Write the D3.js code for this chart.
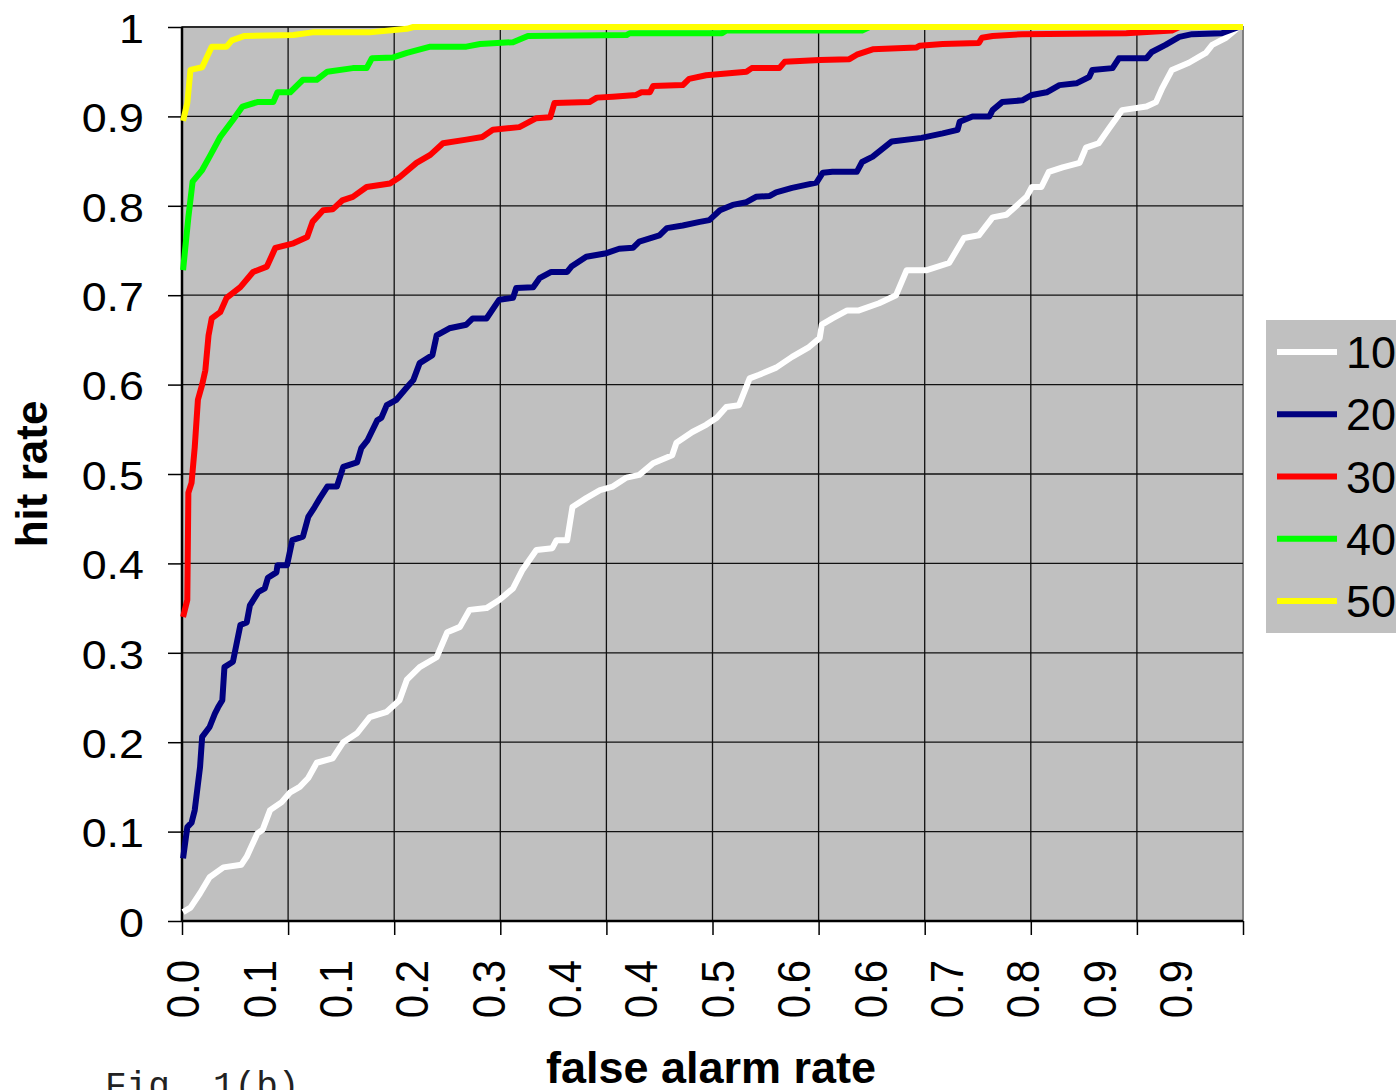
<!DOCTYPE html>
<html>
<head>
<meta charset="utf-8">
<script src="https://d3js.org/d3.v7.min.js"></script>
<style>
  body { margin: 0; background: #fff; }
  text { font-family: "Liberation Sans", Arial, sans-serif; }
</style>
</head>
<body>
<div id="roc-chart"></div>
<script>
//##########################################
//############   ROC CURVES   ##############
//##########################################

// series names (legend) and colours
var seriesNames = ["10", "20", "30", "40", "50"]
var seriesColors = ["#FFFFFF", "#000080", "#FF0000", "#00FF00", "#FFFF00"]

// [false alarm rate, hit rate]
var roc10 = [[0.001,0.01],[0.008,0.015],[0.017,0.031],[0.026,0.049],[0.039,0.06],[0.056,0.063],[0.061,0.072],
  [0.071,0.098],[0.076,0.102],[0.083,0.124],[0.094,0.133],[0.102,0.144],[0.111,0.15],[0.119,0.16],[0.127,0.177],
  [0.142,0.182],[0.152,0.2],[0.165,0.21],[0.177,0.228],[0.193,0.234],[0.205,0.247],[0.212,0.27],[0.224,0.284],
  [0.240,0.295],[0.250,0.323],[0.262,0.329],[0.271,0.348],[0.287,0.35],[0.299,0.359],[0.312,0.372],[0.321,0.393],
  [0.334,0.415],[0.349,0.417],[0.353,0.426],[0.363,0.426],[0.368,0.463],[0.381,0.473],[0.394,0.482],[0.406,0.486],
  [0.419,0.496],[0.431,0.499],[0.444,0.512],[0.462,0.521],[0.466,0.535],[0.481,0.547],[0.494,0.555],[0.504,0.563],
  [0.513,0.575],[0.525,0.577],[0.535,0.607],[0.544,0.611],[0.560,0.619],[0.575,0.631],[0.591,0.642],[0.601,0.652],
  [0.603,0.667],[0.613,0.674],[0.627,0.683],[0.638,0.683],[0.657,0.691],[0.673,0.70],[0.683,0.728],[0.702,0.728],
  [0.723,0.736],[0.737,0.764],[0.751,0.767],[0.764,0.787],[0.777,0.79],[0.796,0.81],[0.801,0.821],[0.810,0.821],
  [0.817,0.838],[0.830,0.843],[0.846,0.848],[0.852,0.865],[0.864,0.87],[0.874,0.887],[0.886,0.907],[0.909,0.911],
  [0.918,0.916],[0.924,0.932],[0.933,0.952],[0.949,0.96],[0.965,0.971],[0.971,0.98],[0.984,0.988],[0.990,0.994],
  [0.996,1.0]]

var roc20 = [[0.001,0.07],[0.005,0.105],[0.009,0.11],[0.012,0.124],[0.017,0.172],[0.019,0.206],[0.026,0.217],
  [0.031,0.232],[0.034,0.239],[0.038,0.247],[0.040,0.284],[0.048,0.29],[0.055,0.331],[0.061,0.334],[0.064,0.353],
  [0.072,0.368],[0.078,0.372],[0.081,0.384],[0.089,0.39],[0.090,0.398],[0.099,0.398],[0.104,0.426],[0.114,0.43],
  [0.119,0.452],[0.125,0.463],[0.130,0.473],[0.137,0.486],[0.146,0.486],[0.152,0.508],[0.165,0.513],[0.169,0.529],
  [0.175,0.538],[0.184,0.56],[0.188,0.563],[0.193,0.577],[0.202,0.583],[0.212,0.597],[0.218,0.605],[0.224,0.624],
  [0.236,0.633],[0.240,0.655],[0.252,0.663],[0.268,0.667],[0.274,0.674],[0.287,0.674],[0.299,0.695],[0.312,0.697],
  [0.315,0.708],[0.331,0.709],[0.337,0.719],[0.348,0.726],[0.363,0.726],[0.367,0.732],[0.381,0.743],[0.400,0.747],
  [0.412,0.752],[0.425,0.753],[0.431,0.76],[0.450,0.767],[0.457,0.775],[0.472,0.778],[0.488,0.782],[0.497,0.784],
  [0.507,0.795],[0.519,0.801],[0.532,0.804],[0.541,0.81],[0.554,0.811],[0.560,0.815],[0.575,0.82],[0.598,0.826],
  [0.604,0.837],[0.613,0.838],[0.636,0.838],[0.641,0.849],[0.651,0.855],[0.669,0.872],[0.697,0.876],[0.717,0.881],
  [0.731,0.885],[0.733,0.894],[0.745,0.9],[0.761,0.9],[0.764,0.907],[0.773,0.916],[0.792,0.918],[0.801,0.924],
  [0.815,0.927],[0.827,0.935],[0.843,0.937],[0.855,0.944],[0.858,0.952],[0.877,0.954],[0.883,0.965],[0.909,0.965],
  [0.914,0.972],[0.927,0.98],[0.940,0.989],[0.952,0.992],[0.980,0.993],[0.996,1.0]]

var roc30 = [[0.001,0.34],[0.005,0.359],[0.006,0.479],[0.009,0.49],[0.012,0.53],[0.015,0.583],[0.019,0.60],
  [0.022,0.616],[0.025,0.655],[0.028,0.674],[0.036,0.681],[0.042,0.697],[0.055,0.709],[0.067,0.726],[0.080,0.732],
  [0.088,0.753],[0.105,0.758],[0.118,0.765],[0.123,0.782],[0.133,0.795],[0.142,0.796],[0.151,0.806],[0.161,0.81],
  [0.174,0.821],[0.196,0.825],[0.205,0.832],[0.221,0.848],[0.234,0.857],[0.246,0.87],[0.268,0.874],[0.283,0.877],
  [0.293,0.885],[0.318,0.888],[0.334,0.898],[0.347,0.899],[0.351,0.915],[0.384,0.916],[0.391,0.921],[0.406,0.922],
  [0.428,0.924],[0.433,0.927],[0.441,0.927],[0.444,0.934],[0.472,0.935],[0.478,0.942],[0.494,0.946],[0.532,0.95],
  [0.537,0.954],[0.563,0.954],[0.568,0.961],[0.601,0.963],[0.629,0.964],[0.636,0.969],[0.651,0.975],[0.692,0.977],
  [0.695,0.979],[0.717,0.981],[0.751,0.982],[0.754,0.988],[0.764,0.99],[0.792,0.992],[0.890,0.993],[0.933,0.996],
  [0.940,1.0],[1.0,1.0]]

var roc40 = [[0.001,0.728],[0.006,0.787],[0.010,0.827],[0.019,0.84],[0.026,0.855],[0.036,0.877],[0.048,0.896],
  [0.057,0.911],[0.071,0.916],[0.086,0.916],[0.090,0.927],[0.102,0.927],[0.114,0.941],[0.127,0.941],[0.137,0.95],
  [0.161,0.954],[0.174,0.954],[0.179,0.965],[0.199,0.966],[0.212,0.971],[0.234,0.978],[0.268,0.978],[0.281,0.981],
  [0.312,0.983],[0.326,0.99],[0.419,0.991],[0.422,0.993],[0.509,0.993],[0.513,0.996],[0.641,0.996],[0.648,1.0],
  [1.0,1.0]]

var roc50 = [[0.001,0.895],[0.005,0.915],[0.008,0.952],[0.019,0.955],[0.028,0.978],[0.042,0.978],[0.047,0.985],
  [0.059,0.99],[0.105,0.991],[0.123,0.994],[0.177,0.994],[0.212,0.998],[0.218,1.0],[1.0,1.0]]

var allSeries = [roc10, roc20, roc30, roc40, roc50]

// axis tick labels
var yTickValues = [0, 0.1, 0.2, 0.3, 0.4, 0.5, 0.6, 0.7, 0.8, 0.9, 1]
var xGridValues = [0, 0.1, 0.2, 0.3, 0.4, 0.5, 0.6, 0.7, 0.8, 0.9, 1]
var xTickLabels = ["0.0","0.1","0.1","0.2","0.3","0.4","0.4","0.5","0.6","0.6","0.7","0.8","0.9","0.9"]
var xLabelStep = 0.072   // one label every 18 of the 250 categories

// set the dimensions and margins of the graph
var margin = {top: 27, right: 153, bottom: 169, left: 182},
    width = 1396 - margin.left - margin.right,
    height = 1090 - margin.top - margin.bottom;

var svg = d3.select("#roc-chart")
  .append("svg")
    .attr("width", 1396)
    .attr("height", 1090)
    .style("display", "block")

var g = svg.append("g")
    .attr("transform", "translate(" + margin.left + "," + margin.top + ")");

var x = d3.scaleLinear().domain([0, 1]).range([0, width])
var y = d3.scaleLinear().domain([0, 1]).range([height, 0])

// plot area background
g.append("rect")
  .attr("width", width)
  .attr("height", height)
  .style("fill", "#C0C0C0")
  .style("stroke", "#808080")
  .style("stroke-width", 2)

// grid lines
g.append("g")
  .attr("class", "grid")
  .selectAll("line.h")
  .data(yTickValues)
  .enter()
  .append("line")
    .attr("x1", 0).attr("x2", width)
    .attr("y1", function(d){ return y(d) }).attr("y2", function(d){ return y(d) })
    .style("stroke", "#111").style("stroke-width", 1.3)

g.append("g")
  .attr("class", "grid")
  .selectAll("line.v")
  .data(xGridValues.slice(1, -1))
  .enter()
  .append("line")
    .attr("y1", 0).attr("y2", height)
    .attr("x1", function(d){ return x(d) }).attr("x2", function(d){ return x(d) })
    .style("stroke", "#111").style("stroke-width", 1.3)

// Y axis
var yAxis = g.append("g")
  .call(d3.axisLeft(y).tickValues(yTickValues).tickSize(14).tickPadding(20)
    .tickFormat(function(d){ return d3.format("")(d) }))
yAxis.selectAll("line").style("stroke", "#000").style("stroke-width", 1.5)
yAxis.select(".domain").style("stroke", "#000").style("stroke-width", 2.5).attr("d", "M0," + height + "V0")
yAxis.selectAll("text")
  .style("font-family", "Liberation Sans, Arial, sans-serif")
  .style("font-size", "40px")
  .style("fill", "#000")
  .attr("dy", "0.38em")
  .attr("transform", "scale(1.12,1)")   // the original picture is a little stretched sideways

// X axis: tick marks at every 0.1
var xAxis = g.append("g")
  .attr("transform", "translate(0," + height + ")")
  .call(d3.axisBottom(x).tickValues(xGridValues).tickSize(14).tickFormat(""))
xAxis.selectAll("line").style("stroke", "#000").style("stroke-width", 1.5)
xAxis.select(".domain").style("stroke", "#000").style("stroke-width", 2.5).attr("d", "M0,0H" + width)

// X axis: category labels
var xLabels = g.append("g")
  .attr("transform", "translate(0," + height + ")")
  .call(d3.axisBottom(x)
    .tickValues(xTickLabels.map(function(d, i){ return i * xLabelStep }))
    .tickSize(0)
    .tickFormat(function(d, i){ return xTickLabels[i] }))
xLabels.select(".domain").remove()
xLabels.selectAll("text")
  .style("font-family", "Liberation Sans, Arial, sans-serif")
  .style("font-size", "42px")
  .style("fill", "#000")
  .style("text-anchor", "end")
  .attr("transform", "scale(1.1,1) rotate(-90)")
  .attr("x", -39)
  .attr("y", 0)
  .attr("dy", "0.36em")

// Add the lines
var line = d3.line()
  .x(function(d){ return x(d[0]) })
  .y(function(d){ return y(d[1]) })

g.selectAll("myLines")
  .data(allSeries)
  .enter()
  .append("path")
    .attr("d", function(d){ return line(d) })
    .attr("stroke", function(d, i){ return seriesColors[i] })
    .style("stroke-width", 6)
    .style("stroke-linejoin", "round")
    .style("fill", "none")

// axis titles
svg.append("text")
  .attr("transform", "translate(47," + (margin.top + height / 2) + ") rotate(-90)")
  .style("text-anchor", "middle")
  .style("font-weight", "bold")
  .style("font-size", "44px")
  .text("hit rate")

svg.append("text")
  .attr("x", 711)
  .attr("y", 1083)
  .style("text-anchor", "middle")
  .style("font-weight", "bold")
  .style("font-size", "45px")
  .text("false alarm rate")

svg.append("text")
  .attr("x", 105)
  .attr("y", 1097)
  .style("font-family", "Liberation Mono, Courier New, monospace")
  .style("font-size", "36px")
  .style("fill", "#222")
  .text("Fig. 1(b)")

//##########################################
//############     LEGEND     ##############
//##########################################

var legend = svg.append("g").attr("transform", "translate(1266,320)")
legend.append("rect")
  .attr("width", 140)
  .attr("height", 313)
  .style("fill", "#C0C0C0")

var legendY = d3.scalePoint().domain(seriesNames).range([32, 281])

legend.selectAll("legendLines")
  .data(seriesNames)
  .enter()
  .append("line")
    .attr("x1", 11).attr("x2", 71)
    .attr("y1", function(d){ return legendY(d) }).attr("y2", function(d){ return legendY(d) })
    .style("stroke", function(d, i){ return seriesColors[i] })
    .style("stroke-width", 6)

legend.selectAll("legendText")
  .data(seriesNames)
  .enter()
  .append("text")
    .attr("x", 80)
    .attr("y", function(d){ return legendY(d) })
    .attr("dy", "0.36em")
    .style("font-size", "45px")
    .text(function(d){ return d })
</script>
</body>
</html>
